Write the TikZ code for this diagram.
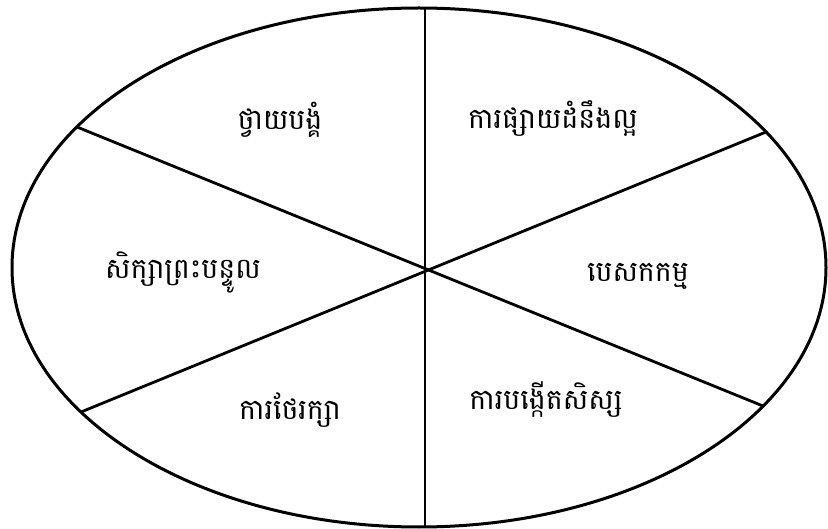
\documentclass[tikz,border=0pt]{standalone}
\usepackage{fontspec}
\newfontfamily\khmer[Script=Khmer]{Battambang}
\begin{document}
\begin{tikzpicture}[x=1pt,y=-1pt,
  rim/.style={line width=3pt},
  spoke/.style={line width=2.8pt},
  lbl/.style={font=\khmer\fontsize{28.5}{33}\selectfont, inner sep=0pt, text=black}]
\useasboundingbox (0,0) rectangle (828,529);
\fill[white] (0,0) rectangle (828,529);
\draw[rim] (419,267.5) ellipse [x radius=407pt, y radius=259.5pt];
\coordinate (c) at (425,269);
\coordinate (top) at (425,8);
\coordinate (bot) at (425,527);
\coordinate (ul) at (77,127);
\coordinate (ur) at (766,132);
\coordinate (ll) at (81,412);
\coordinate (lr) at (763,406);
\draw[spoke] (top) -- (bot);
\draw[spoke] (ul) -- (lr);
\draw[spoke] (ll) -- (ur);
\node[lbl] (worship) at (280,120) {ថ្វាយបង្គំ};
\node[lbl] (evang) at (553,118) {ការផ្សាយដំនឹងល្អ};
\node[lbl] (study) at (183,272) {សិក្សាព្រះបន្ទូល};
\node[lbl] (mission) at (638,276) {បេសកកម្ម};
\node[lbl] (care) at (290,410) {ការថែរក្សា};
\node[lbl] (disc) at (546,399) {ការបង្កើតសិស្ស};
\end{tikzpicture}
\end{document}
